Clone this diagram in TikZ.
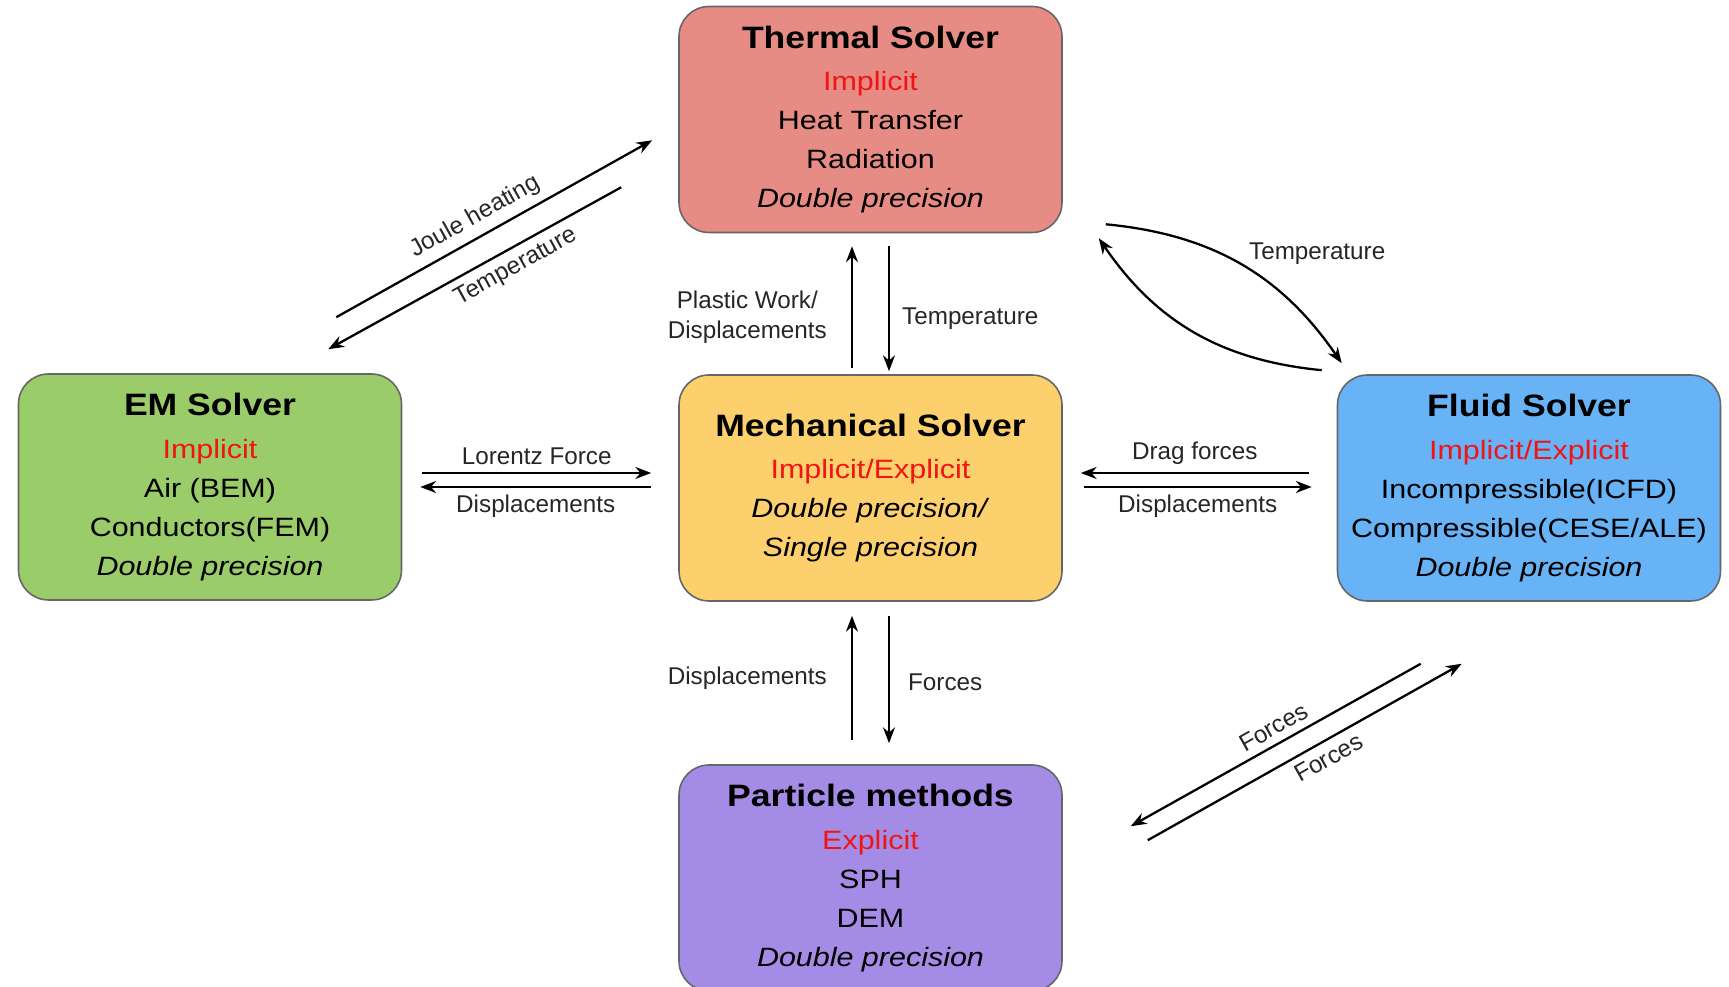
\documentclass[tikz,border=0pt]{standalone}
\usepackage{fontspec}
\setmainfont{Liberation Sans}
\newfontfamily\boxfont{Liberation Sans}[FakeStretch=1.15]
\usetikzlibrary{arrows.meta}

\definecolor{thermalfill}{RGB}{230,140,132}
\definecolor{emfill}{RGB}{155,204,106}
\definecolor{mechfill}{RGB}{253,208,110}
\definecolor{fluidfill}{RGB}{104,178,246}
\definecolor{particlefill}{RGB}{164,139,229}
\definecolor{schemered}{RGB}{240,20,20}

\newcommand{\solvertitle}[1]{{\fontsize{8.8}{11.1}\selectfont\bfseries #1}}
\newcommand{\solvermode}[1]{\textcolor{schemered}{#1}}

\begin{document}
\begin{tikzpicture}[x=0.1mm, y=-0.1mm, >={Stealth[length=4.5pt,width=3.4pt]},
    solver/.style={draw=black!60, line width=0.45pt, rounded corners=0.3cm,
      minimum width=3.83cm, minimum height=2.26cm, inner sep=0pt, align=center,
      font=\boxfont\fontsize{7.54}{11.1}\selectfont},
    link/.style={->, line width=0.65pt},
    lbl/.style={font=\fontsize{6.9}{8.8}\selectfont, text=black!85, inner sep=2pt}]
  \path[use as bounding box, fill=white] (0,0) rectangle (1729,987);

  % solvers
  \node[solver, fill=thermalfill] (thermal) at (870.5,119.5)
    {\solvertitle{Thermal Solver}\\[1pt] \solvermode{Implicit}\\ Heat Transfer\\ Radiation\\ \textit{Double precision}};
  \node[solver, fill=emfill] (em) at (210,487)
    {\solvertitle{EM Solver}\\[1pt] \solvermode{Implicit}\\ Air (BEM)\\ Conductors(FEM)\\ \textit{Double precision}};
  \node[solver, fill=mechfill] (mech) at (870.5,488)
    {\solvertitle{Mechanical Solver}\\[1pt] \solvermode{Implicit/Explicit}\\ \textit{Double precision/}\\ \textit{Single precision}};
  \node[solver, fill=fluidfill] (fluid) at (1529,488)
    {\solvertitle{Fluid Solver}\\[1pt] \solvermode{Implicit/Explicit}\\ Incompressible(ICFD)\\ Compressible(CESE/ALE)\\ \textit{Double precision}};
  \node[solver, fill=particlefill] (particle) at (870.5,878)
    {\solvertitle{Particle methods}\\[1pt] \solvermode{Explicit}\\ SPH\\ DEM\\ \textit{Double precision}};

  % thermal <-> mechanical
  \draw[link] ([shift={(-18.5,-6)}]mech.north) -- ([shift={(-18.5,13)}]thermal.south)
    node[midway, left=0.17cm, lbl, align=center, yshift=-0.1cm] {Plastic Work/\\Displacements};
  \draw[link] ([shift={(18.5,13)}]thermal.south) -- ([shift={(18.5,-3)}]mech.north)
    node[midway, right=0.05cm, lbl, yshift=-0.1cm] {Temperature};

  % mechanical <-> particle
  \draw[link] ([shift={(-18.5,-24)}]particle.north) -- ([shift={(-18.5,14)}]mech.south)
    node[midway, left=0.17cm, lbl] {Displacements};
  \draw[link] ([shift={(18.5,14)}]mech.south) -- ([shift={(18.5,-21)}]particle.north)
    node[midway, right=0.11cm, lbl, yshift=-0.03cm] {Forces};

  % em <-> mechanical
  \draw[link] ([shift={(20,-14)}]em.east) -- ([shift={(-27,-15)}]mech.west)
    node[midway, above, lbl] {Lorentz Force};
  \draw[link] ([shift={(-27,-1)}]mech.west) -- ([shift={(18,0)}]em.east)
    node[midway, below, lbl] {Displacements};

  % fluid <-> mechanical
  \draw[link] ([shift={(-28,-15)}]fluid.west) -- ([shift={(18,-15)}]mech.east)
    node[midway, above, lbl] {Drag forces};
  \draw[link] ([shift={(21,-1)}]mech.east) -- ([shift={(-25,-1)}]fluid.west)
    node[midway, below, lbl] {Displacements};

  % em <-> thermal
  \draw[link] ([shift={(-66,-56)}]em.north east) -- ([shift={(-26,-93)}]thermal.south west)
    node[pos=0.47, sloped, above, lbl] {Joule heating};
  \draw[link, <-] ([shift={(-74,-24)}]em.north east) -- ([shift={(-57,-46)}]thermal.south west)
    node[pos=0.61, sloped, below, lbl] {Temperature};

  % thermal <-> fluid
  \draw[link] ([shift={(43,-9)}]thermal.south east) to[bend left=25]
    node[midway, right, lbl, yshift=0.11cm] {Temperature} ([shift={(5,-11)}]fluid.north west);
  \draw[link] ([shift={(-15,-4)}]fluid.north west) to[bend left=25] ([shift={(36,5)}]thermal.south east);

  % particle <-> fluid
  \draw[link, <-] ([shift={(68,62)}]particle.north east) -- ([shift={(84,62)}]fluid.south west)
    node[pos=0.52, sloped, above, lbl] {Forces};
  \draw[link] ([shift={(85,76)}]particle.north east) -- ([shift={(125,62)}]fluid.south west)
    node[pos=0.55, sloped, below, lbl] {Forces};
\end{tikzpicture}
\end{document}
